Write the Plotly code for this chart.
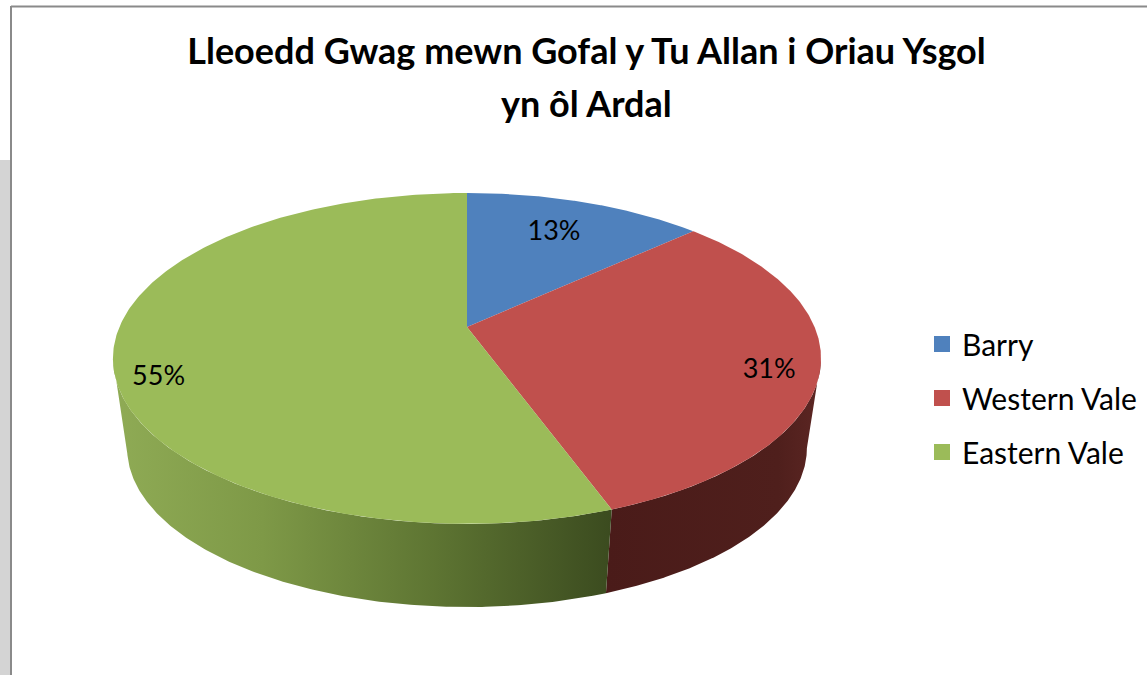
import numpy as np
import plotly.graph_objects as go

# Vacancies in out-of-school-hours care, share by area (%)
regions = ["Barry", "Western Vale", "Eastern Vale"]
shares = [13, 31, 55]
share_labels = [f"{v}%" for v in shares]

title_line1 = "Lleoedd Gwag mewn Gofal y Tu Allan i Oriau Ysgol"
title_line2 = "yn ôl Ardal"

# styling
top_colors = ["#4F81BD", "#C0504D", "#9BBB59"]
side_scales = [
    [[0, "#3a5a86"], [1, "#2a4266"]],
    [[0, "#4a1b19"], [0.8, "#4f1f1c"], [1, "#5c2623"]],
    [[0, "#8fab55"], [0.3, "#7e9947"], [0.65, "#5d7432"], [1, "#3b4b1f"]],
]
FONT = "Lato"

# perspective disc: centre, radii, foreshortening, thickness
CX, CY = 467.0, 327.0
RA, RB, PERSP = 347.6, 159.5, 0.19
DEPTH, BOTTOM_SCALE = 91.0, 0.96
label_radius = [0.70, 0.86, 0.875]
label_dy = [-3, 11, 26]


def top_point(theta, r=1.0):
    u, v = r * np.sin(theta), r * np.cos(theta)
    w = 1 + PERSP * v
    return CX + RA * u / w, CY - RB * v / w


def bottom_point(theta):
    u, v = np.sin(theta), np.cos(theta)
    w = 1 + PERSP * v
    return CX + BOTTOM_SCALE * RA * u / w, CY + DEPTH - BOTTOM_SCALE * RB * v / w


total = float(sum(shares))
edges = np.concatenate([[0.0], np.cumsum(shares) / total]) * 2 * np.pi
vis_lo = np.arccos(-PERSP)
vis_hi = 2 * np.pi - vis_lo

fig = go.Figure()

# visible rim of the disc
for i in range(len(shares)):
    a0, a1 = max(edges[i], vis_lo), min(edges[i + 1], vis_hi)
    if a1 <= a0:
        continue
    t = np.linspace(a0, a1, 200)
    tx, ty = top_point(t)
    bx, by = bottom_point(t[::-1])
    fig.add_trace(go.Scatter(
        x=np.concatenate([tx, bx, tx[:1]]), y=np.concatenate([ty, by, ty[:1]]),
        mode="lines", fill="toself", line=dict(width=0),
        fillgradient=dict(type="horizontal", colorscale=side_scales[i]),
        hoverinfo="skip", showlegend=False,
    ))

# top faces of the slices
for i in range(len(shares)):
    t = np.linspace(edges[i], edges[i + 1], 300)
    ax, ay = top_point(t)
    fig.add_trace(go.Scatter(
        x=np.concatenate([[CX], ax, [CX]]), y=np.concatenate([[CY], ay, [CY]]),
        mode="lines", fill="toself", fillcolor=top_colors[i],
        line=dict(width=0), hoverinfo="skip", showlegend=False,
    ))

# percentage labels
mids = (edges[:-1] + edges[1:]) / 2
lx, ly = [], []
for i, m in enumerate(mids):
    px_, py_ = top_point(m, label_radius[i])
    lx.append(px_)
    ly.append(py_ + label_dy[i])
fig.add_trace(go.Scatter(
    x=lx, y=ly, mode="text", text=share_labels,
    textfont=dict(family=FONT, size=27, color="#000000"),
    hoverinfo="skip", showlegend=False,
))

# legend entries
for i, name in enumerate(regions):
    fig.add_trace(go.Scatter(
        x=[None], y=[None], mode="markers", name=name, legendgroup=name,
        marker=dict(symbol="square", size=17, color=top_colors[i]),
    ))

fig.update_layout(
    width=1147, height=675,
    margin=dict(l=0, r=0, t=0, b=0),
    paper_bgcolor="white", plot_bgcolor="white",
    xaxis=dict(range=[0, 1147], visible=False, fixedrange=True),
    yaxis=dict(range=[675, 0], visible=False, fixedrange=True),
    title=dict(
        text=f"<b>{title_line1}</b>",
        font=dict(family=FONT, size=36, color="#000000"),
        x=586.5 / 1147, xanchor="center",
        y=1 - 51 / 675, yanchor="middle", yref="container",
    ),
    annotations=[dict(
        text=f"<b>{title_line2}</b>", xref="paper", yref="paper",
        x=586.5 / 1147, y=1 - 103 / 675, xanchor="center", yanchor="middle",
        showarrow=False, font=dict(family=FONT, size=36, color="#000000"),
    )],
    legend=dict(
        x=922 / 1147, y=1 - 318 / 675, xanchor="left", yanchor="top",
        font=dict(family=FONT, size=30, color="#000000"),
        tracegroupgap=12, bgcolor="rgba(0,0,0,0)",
    ),
    showlegend=True,
    shapes=[
        dict(type="rect", xref="x", yref="y", x0=0, x1=10, y0=160, y1=675,
             fillcolor="#d4d4d4", line=dict(width=0), layer="below"),
        dict(type="line", xref="x", yref="y", x0=11, x1=1147, y0=6.5, y1=6.5,
             line=dict(color="#8a8a8a", width=2)),
        dict(type="line", xref="x", yref="y", x0=11, x1=11, y0=6, y1=675,
             line=dict(color="#8a8a8a", width=2)),
    ],
)

fig.write_html("out.html")
